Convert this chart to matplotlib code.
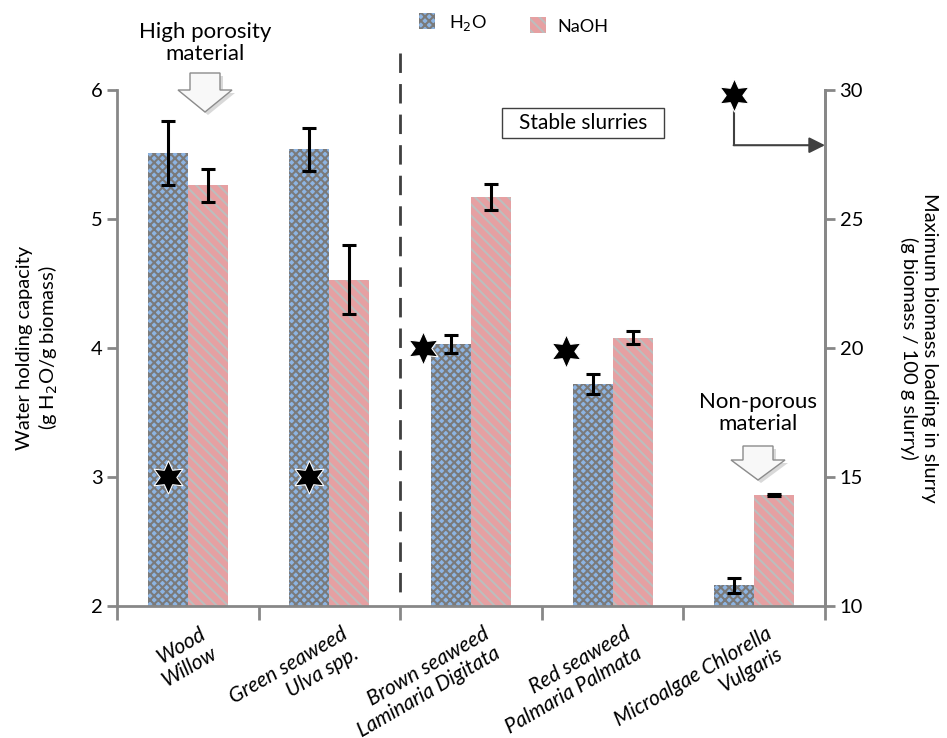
import matplotlib
matplotlib.use("Agg")
import matplotlib.pyplot as plt
import numpy as np
from matplotlib.patches import Polygon, Rectangle

plt.rcParams['font.family'] = ['Lato', 'DejaVu Sans']
plt.rcParams['hatch.linewidth'] = 1.5

# data
categories = ["Wood\nWillow", "Green seaweed\nUlva spp.", "Brown seaweed\nLaminaria Digitata",
              "Red seaweed\nPalmaria Palmata", "Microalgae Chlorella\nVulgaris"]
h2o = [5.51, 5.54, 4.03, 3.72, 2.16]
h2o_err = [0.25, 0.165, 0.07, 0.08, 0.06]
naoh = [5.26, 4.53, 5.17, 4.08, 2.86]
naoh_err = [0.125, 0.27, 0.10, 0.05, 0.01]
loading = [15, 15, 20, 19.9]          # stars, right axis
loading_legend = 29.8

W, H = 947, 738
fig = plt.figure(figsize=(W / 100, H / 100), dpi=100)
ax = fig.add_axes([117 / W, 1 - 606 / H, (825 - 117) / W, (606 - 90) / H])

x = np.arange(len(categories)) + 0.5
bw = 0.283
gray = "#878787"

ax.bar(x - bw / 2, h2o, bw, color="#8db4e2", edgecolor="#7a7a7a", hatch="xxxx", lw=0)
ax.bar(x + bw / 2, naoh, bw, color="#e6a0a2", edgecolor="#bdbdbd", hatch="\\\\\\", lw=0)
ax.errorbar(x - bw / 2, h2o, yerr=h2o_err, fmt="none", ecolor="black", elinewidth=2.2, capsize=5, capthick=2.2)
ax.errorbar(x + bw / 2, naoh, yerr=naoh_err, fmt="none", ecolor="black", elinewidth=2.2, capsize=5, capthick=2.2)

ax.set_xlim(0, 5)
ax.set_ylim(2, 6)
ax.set_yticks([2, 3, 4, 5, 6])
ax.set_xticks(np.arange(6))
ax.set_xticklabels([])
for xi, lab in zip(x, categories):
    ax.text(xi + 0.08, 1.86, lab, rotation=30, ha="right", va="top", rotation_mode="anchor",
            fontsize=15, style="italic", multialignment="right", linespacing=1.15)

ax.spines["top"].set_visible(False)
for s in ["left", "bottom", "right"]:
    ax.spines[s].set_color(gray)
    ax.spines[s].set_linewidth(2)
ax.tick_params(axis="both", colors=gray, width=2, length=7, labelsize=14.5, labelcolor="black")
ax.tick_params(axis="x", length=10)

ax.set_ylabel("Water holding capacity\n(g H$_2$O/g biomass)", fontsize=14.5, labelpad=22)

ax2 = ax.twinx()
ax2.set_ylim(10, 30)
ax2.set_yticks([10, 15, 20, 25, 30])
for s in ["top", "left", "bottom"]:
    ax2.spines[s].set_visible(False)
ax2.spines["right"].set_color(gray)
ax2.spines["right"].set_linewidth(2)
ax2.tick_params(axis="y", colors=gray, width=2, length=7, labelsize=14.5, labelcolor="black")
ax2.set_ylabel("Maximum biomass loading in slurry\n(g biomass / 100 g slurry)", fontsize=14.5,
               rotation=270, labelpad=54)

star_x = [x[0] - bw / 2, x[1] - bw / 2, x[2] - bw / 2 - 0.2, x[3] - bw / 2 - 0.19]
ax2.plot(star_x, loading, ls="none", marker=(6, 1, 0), ms=24, color="black", mec="white", mew=0.8)

# star legend with elbow arrow to the right axis
sx, corner = 4.36, 27.86
ax2.plot([sx, sx], [loading_legend, corner], color="#404040", lw=1.5, clip_on=False)
ax2.annotate("", xy=(5, corner), xytext=(sx - 0.005, corner),
             arrowprops=dict(arrowstyle="-|>", color="#404040", lw=1.5, mutation_scale=24,
                             shrinkA=0, shrinkB=0))
ax2.plot([sx], [loading_legend], ls="none", marker=(6, 1, 0), ms=24, color="black", mec="white",
         mew=0.8, clip_on=False, zorder=5)

# dashed separator
ax.plot([2, 2], [6.29, 2.085], ls=(0, (7, 4)), color="#404040", lw=2, clip_on=False)

# overlay for annotations in pixel coordinates
ov = fig.add_axes([0, 0, 1, 1], facecolor="none")
ov.set_xlim(0, W)
ov.set_ylim(H, 0)
ov.axis("off")


def block_arrow(cx, top, shaft_w, shaft_h, head_w, head_h):
    pts = [(cx - shaft_w / 2, top), (cx + shaft_w / 2, top), (cx + shaft_w / 2, top + shaft_h),
           (cx + head_w / 2, top + shaft_h), (cx, top + shaft_h + head_h),
           (cx - head_w / 2, top + shaft_h), (cx - shaft_w / 2, top + shaft_h)]
    sh = [(px + 3, py + 3) for px, py in pts]
    ov.add_patch(Polygon(sh, closed=True, fc="#d9d9d9", ec="none"))
    ov.add_patch(Polygon(pts, closed=True, fc="#f8f8f8", ec="#8c8c8c", lw=1))


ov.text(205, 43, "High porosity\nmaterial", ha="center", va="center", fontsize=16, linespacing=1.15)
block_arrow(205, 73, 30, 17, 54, 22)
ov.text(758, 413, "Non-porous\nmaterial", ha="center", va="center", fontsize=16, linespacing=1.15)
block_arrow(758, 446, 30, 14, 54, 20)

ov.add_patch(Rectangle((502, 108), 162, 30, fc="white", ec="#404040", lw=1))
ov.text(583, 123, "Stable slurries", ha="center", va="center", fontsize=15)

# legend
ov.add_patch(Rectangle((419, 13), 16, 16, fc="#8db4e2", ec="#7a7a7a", hatch="xxxx", lw=0))
ov.text(449, 23, "H$_2$O", ha="left", va="center", fontsize=13)
ov.add_patch(Rectangle((530, 17), 16, 16, fc="#e6a0a2", ec="#bdbdbd", hatch="\\\\\\", lw=0))
ov.text(557, 27, "NaOH", ha="left", va="center", fontsize=13)

fig.savefig("out.png", dpi=100)
